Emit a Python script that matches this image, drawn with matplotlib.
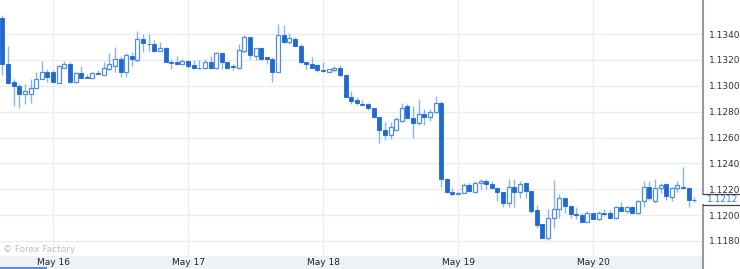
import matplotlib
matplotlib.use("Agg")
import matplotlib.pyplot as plt
import matplotlib.transforms as mtransforms
from matplotlib.lines import Line2D
import pandas as pd

# hourly EUR/USD candles, May 15 15:00 -> May 20 18:00
times = pd.date_range("2016-05-15 15:00", periods=124, freq="h")

opens = [1.1352, 1.1317, 1.1303, 1.1300, 1.1294, 1.1294, 1.1298, 1.1305, 1.1311, 1.1311,
         1.1302, 1.1314, 1.1317, 1.1303, 1.1310, 1.13065, 1.1306, 1.1310, 1.1308, 1.1313,
         1.1315, 1.1321, 1.1311, 1.1323, 1.1320, 1.1336, 1.13325, 1.1332, 1.1327, 1.1329,
         1.1318, 1.1318, 1.1317, 1.1319, 1.1316, 1.1314, 1.1314, 1.1318, 1.1314, 1.1325,
         1.1318, 1.1315, 1.1314, 1.1327, 1.1338, 1.1323, 1.1329, 1.1322, 1.1321, 1.1311,
         1.1339, 1.1334, 1.1336, 1.1331, 1.1318, 1.1317, 1.1316, 1.1312, 1.1311, 1.1312,
         1.1314, 1.1308, 1.1291, 1.1289, 1.1286, 1.1286, 1.1283, 1.1276, 1.1266, 1.1262,
         1.1266, 1.1273, 1.1284, 1.1275, 1.1271, 1.1278, 1.1276, 1.1280, 1.1287, 1.1228,
         1.1218, 1.1216, 1.1217, 1.1223, 1.1218, 1.1225, 1.1226, 1.1224, 1.1221, 1.1218,
         1.1209, 1.1222, 1.1218, 1.1225, 1.1219, 1.1204, 1.1193, 1.1182, 1.1198, 1.1205,
         1.1213, 1.1207, 1.1201, 1.1200, 1.1195, 1.1202, 1.1197, 1.1202, 1.1202, 1.1198,
         1.1206, 1.1203, 1.1206, 1.1202, 1.1211, 1.1222, 1.1211, 1.1221, 1.1224, 1.1214,
         1.1221, 1.1222, 1.1221, 1.1212]
highs = [1.1355, 1.1331, 1.1305, 1.1301, 1.1301, 1.1305, 1.1311, 1.1319, 1.1313, 1.1312,
         1.1316, 1.1319, 1.1318, 1.1311, 1.1315, 1.1309, 1.1311, 1.1312, 1.1318, 1.1325,
         1.1330, 1.1323, 1.1325, 1.1326, 1.1342, 1.1340, 1.1340, 1.1335, 1.1334, 1.1330,
         1.1321, 1.1323, 1.1321, 1.1320, 1.1320, 1.1320, 1.1321, 1.1323, 1.1326, 1.1326,
         1.1318, 1.1317, 1.1332, 1.1339, 1.1338, 1.1329, 1.1330, 1.1322, 1.1322, 1.1348,
         1.1347, 1.1341, 1.1338, 1.1332, 1.1318, 1.1322, 1.1317, 1.1318, 1.1313, 1.1315,
         1.1316, 1.1309, 1.1296, 1.1291, 1.1289, 1.1287, 1.1283, 1.1276, 1.1272, 1.1272,
         1.1276, 1.1287, 1.1286, 1.1284, 1.1290, 1.1282, 1.1282, 1.1292, 1.1288, 1.1229,
         1.1221, 1.1218, 1.1225, 1.1225, 1.1226, 1.1228, 1.1228, 1.1226, 1.1222, 1.1218,
         1.1228, 1.1228, 1.1226, 1.1225, 1.1219, 1.1208, 1.1193, 1.1205, 1.1227, 1.1216,
         1.1214, 1.1208, 1.1206, 1.1202, 1.1203, 1.1202, 1.1203, 1.1205, 1.1204, 1.1207,
         1.1210, 1.1207, 1.1207, 1.1212, 1.1226, 1.1226, 1.1228, 1.1225, 1.1225, 1.1222,
         1.1226, 1.1237, 1.1222, 1.1214]
lows = [1.1308, 1.1301, 1.1284, 1.1283, 1.1286, 1.1287, 1.1298, 1.1305, 1.1303, 1.1303,
        1.1302, 1.1314, 1.1302, 1.1302, 1.1306, 1.1306, 1.1305, 1.1309, 1.1308, 1.1312,
        1.1311, 1.1307, 1.1307, 1.1315, 1.1318, 1.1326, 1.1327, 1.1326, 1.1327, 1.1318,
        1.1313, 1.1316, 1.1316, 1.1314, 1.1313, 1.1313, 1.1314, 1.1313, 1.1313, 1.1313,
        1.1314, 1.1312, 1.1313, 1.1325, 1.1321, 1.1320, 1.1321, 1.1317, 1.1303, 1.1311,
        1.1333, 1.1332, 1.1331, 1.1317, 1.1313, 1.1314, 1.1311, 1.1311, 1.1311, 1.1311,
        1.1307, 1.1291, 1.1286, 1.1285, 1.1285, 1.1281, 1.1275, 1.1256, 1.1258, 1.1259,
        1.1266, 1.1272, 1.1274, 1.1260, 1.1270, 1.1270, 1.1273, 1.1279, 1.1222, 1.1217,
        1.1215, 1.1216, 1.1217, 1.1218, 1.1218, 1.1220, 1.1220, 1.1221, 1.1211, 1.1206,
        1.1206, 1.1206, 1.1213, 1.1213, 1.1202, 1.1190, 1.1182, 1.1181, 1.1190, 1.1198,
        1.1202, 1.1198, 1.1197, 1.1195, 1.1195, 1.1197, 1.1196, 1.1199, 1.1197, 1.1197,
        1.1203, 1.1202, 1.1201, 1.1201, 1.1206, 1.1212, 1.1209, 1.1217, 1.1212, 1.1211,
        1.1218, 1.1221, 1.1206, 1.1210]
closes = [1.1317, 1.1302, 1.1300, 1.1294, 1.1296, 1.1298, 1.1305, 1.1311, 1.1307, 1.1303,
          1.1315, 1.1317, 1.1303, 1.1310, 1.1306, 1.1306, 1.1310, 1.1309, 1.1314, 1.1317,
          1.1321, 1.1311, 1.1324, 1.1321, 1.1336, 1.1333, 1.1332, 1.1327, 1.1329, 1.1318,
          1.13178, 1.1317, 1.1319, 1.1315, 1.1314, 1.13138, 1.1318, 1.1314, 1.1325, 1.1318,
          1.1314, 1.13148, 1.1328, 1.1338, 1.1324, 1.1329, 1.1321, 1.1321, 1.1311, 1.1339,
          1.1334, 1.1337, 1.1331, 1.1318, 1.1317, 1.1314, 1.1312, 1.13118, 1.1313, 1.1314,
          1.1308, 1.1291, 1.1288, 1.1287, 1.1285, 1.1283, 1.1276, 1.1266, 1.1262, 1.1268,
          1.1274, 1.1283, 1.1275, 1.1271, 1.1278, 1.1276, 1.1280, 1.1287, 1.1228, 1.1218,
          1.1216, 1.1217, 1.1223, 1.1219, 1.1225, 1.1226, 1.1224, 1.1221, 1.1218, 1.1209,
          1.1222, 1.1218, 1.1224, 1.1219, 1.1203, 1.1192, 1.1182, 1.1198, 1.1205, 1.1213,
          1.1207, 1.1201, 1.1200, 1.1195, 1.1202, 1.1197, 1.1202, 1.1201, 1.1198, 1.1206,
          1.1203, 1.1206, 1.1202, 1.1211, 1.1222, 1.1213, 1.1221, 1.1223, 1.1215, 1.1221,
          1.1223, 1.1221, 1.1212, 1.12118]

price_ticks = [1.1180, 1.1200, 1.1220, 1.1240, 1.1260, 1.1280, 1.1300, 1.1320, 1.1340]
watermark = "\u00a9 Forex Factory"

dark = "#1f69d1"
edge = "#4f8fe0"
wick = "#8ab5ec"
gridc = "#e9edf3"

fig = plt.figure(figsize=(7.4, 2.69), dpi=100)
W, H = 740.0, 269.0

# bottom date band (drawn first, under everything)
band = fig.add_axes([0, 0, 703 / W, 13 / H], zorder=-1)
band.set_facecolor("#eef1f5")
band.set_xticks([])
band.set_yticks([])
for s in band.spines.values():
    s.set_visible(False)
band.plot([0, 46 / 703], [0.06, 0.06], transform=band.transAxes, color="#5b8fd6",
          linewidth=1.5, clip_on=False)

ax = fig.add_axes([0, 13 / H, 703 / W, 256 / H])
ax.patch.set_alpha(0)

x = list(range(len(times)))
ax.vlines(x, lows, highs, color=wick, linewidth=1.0, zorder=2)
for i in x:
    o, c = opens[i], closes[i]
    bottom = min(o, c)
    h = max(abs(c - o), 0.00002)
    if c < o:
        ax.bar(i, h, bottom=bottom, width=0.72, color=dark, edgecolor=dark,
               linewidth=0.6, zorder=3)
    else:
        ax.bar(i, h, bottom=bottom, width=0.72, color="white", edgecolor=edge,
               linewidth=0.9, zorder=3)

ax.set_xlim(-0.43, 124.55)
ax.set_ylim(1.11684, 1.13663)

day_idx = [i for i, t in enumerate(times) if t.hour == 0]
ax.set_xticks(day_idx)
ax.set_xticklabels([times[i].strftime("%b %d").replace(" 0", " ") for i in day_idx],
                   fontsize=6.5, color="#222222")
ax.tick_params(axis="x", length=0, pad=1.5)
ax.set_yticks(price_ticks)
ax.set_yticklabels(["%.4f" % p for p in price_ticks], fontsize=6.5, color="#333333")
ax.yaxis.tick_right()
ax.tick_params(axis="y", length=0, pad=4)
ax.grid(True, color=gridc, linewidth=1.0, zorder=0)
ax.set_axisbelow(True)
for s in ax.spines.values():
    s.set_visible(False)

# right axis line with gap for the current price box
last = closes[-1]
tr = mtransforms.blended_transform_factory(ax.transAxes, ax.transData)
top_box = last + 0.00043
bot_box = last - 0.00042
ax.plot([1, 1], [top_box, 1.14], transform=tr, color="#999999", linewidth=1.5,
        clip_on=False)
ax.plot([1, 1], [1.10, bot_box], transform=tr, color="#999999", linewidth=1.5,
        clip_on=False)
ax.plot([1, 740 / 703], [top_box, top_box], transform=tr, color="#444444",
        linewidth=0.9, clip_on=False)
ax.plot([1, 740 / 703], [bot_box, bot_box], transform=tr, color="#444444",
        linewidth=0.9, clip_on=False)
ax.text(707 / 703, last, "%.4f" % last, transform=tr, fontsize=6.5, color="#2f7fe0",
        va="center", ha="left", clip_on=False)

ax.text(3 / 703, 7 / 256, watermark, transform=ax.transAxes, fontsize=6.5,
        color="#b9bec6", va="center", ha="left")

fig.savefig("out.png", dpi=100)
